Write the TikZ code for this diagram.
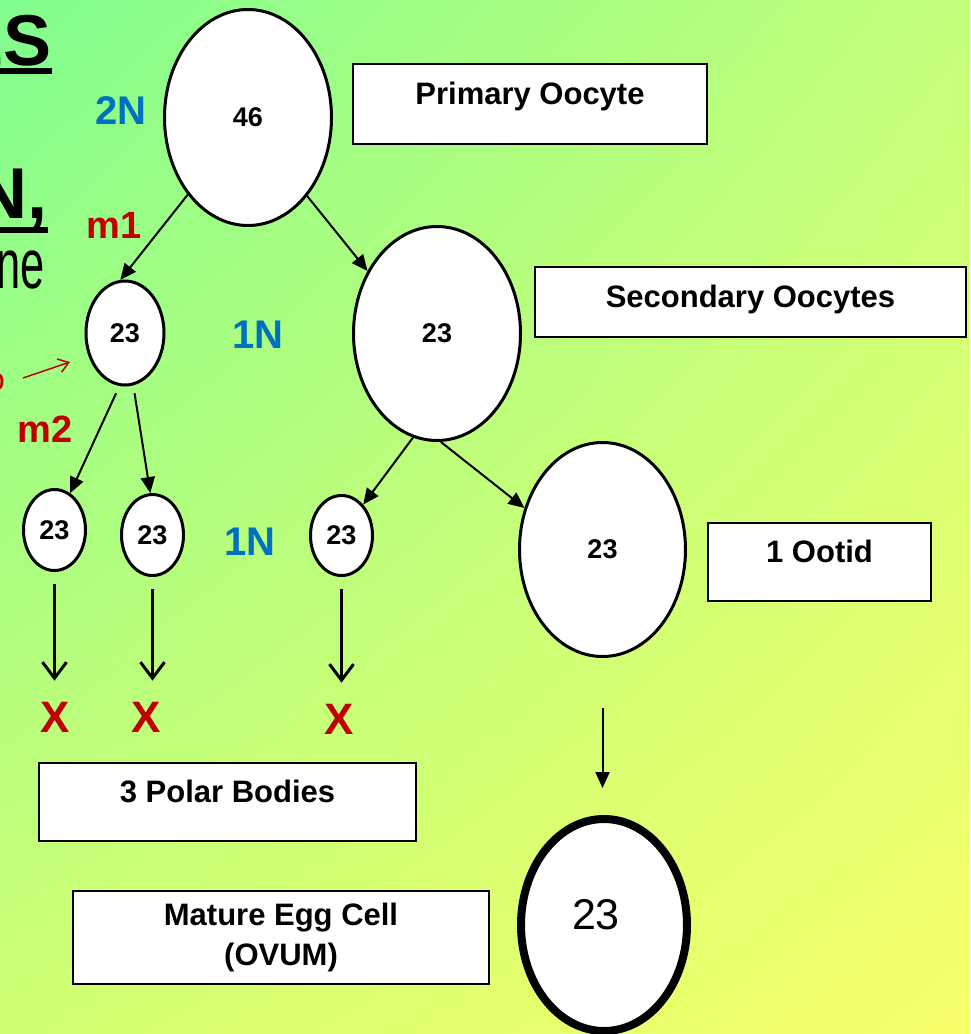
\documentclass[tikz,border=0pt]{standalone}
\usepackage{fontspec}
\setmainfont{Liberation Sans}
\usetikzlibrary{shapes.geometric,arrows.meta,shadings}

\definecolor{ploidblue}{RGB}{0,112,192}
\definecolor{mred}{RGB}{192,0,0}
\definecolor{bgA}{RGB}{128,253,142}
\definecolor{bgB}{RGB}{196,255,122}
\definecolor{bgC}{RGB}{208,255,116}
\definecolor{bgD}{RGB}{248,255,104}

% thick underline: text, gap below the baseline
\newcommand{\ulthick}[2]{\setbox0\hbox{#1}\rlap{\vrule height -#2 depth \dimexpr#2+6pt\relax width \wd0}\box0}

\begin{document}
\begin{tikzpicture}[x=1pt,y=-1pt,
    cell/.style={ellipse, draw, line width=3pt, fill=white, inner sep=0pt,
      font=\fontsize{27}{27}\selectfont\bfseries},
    tag/.style={rectangle, draw, line width=2pt, fill=white, inner sep=0pt,
      font=\fontsize{31}{40}\selectfont\bfseries},
    ploidy/.style={text=ploidblue, inner sep=0pt, font=\fontsize{40}{40}\selectfont\bfseries},
    phase/.style={text=mred, inner sep=0pt, font=\fontsize{38}{38}\selectfont\bfseries},
    gone/.style={text=mred, inner sep=0pt, font=\fontsize{44}{44}\selectfont\bfseries},
    arr/.style={line width=2pt, -{Triangle[length=16pt,width=14pt]}},
    dies/.style={line width=3pt, shorten <=12pt, shorten >=21pt,
      -{Straight Barb[length=16pt,width=24pt]}},
  ]
  \clip (0,0) rectangle (970,1034);
  \shade[upper left=bgA, upper right=bgB, lower left=bgC, lower right=bgD]
    (0,0) rectangle (970,1034);

  % left edge of the slide text
  \node[anchor=base east, inner sep=0pt, font=\fontsize{72}{72}\selectfont\bfseries] (es) at (52,65) {\ulthick{ES}{3pt}};
  \node[anchor=base east, inner sep=0pt, font=\fontsize{72}{72}\selectfont\bfseries] (nc) at (48,218) {\ulthick{N,}{9pt}};
  \node[anchor=base east, inner sep=0pt, font=\fontsize{70}{70}\selectfont] (ne) at (45,288) {\scalebox{0.62}[1]{ne}};
  \node[anchor=base east, inner sep=0pt, text=mred, font=\fontsize{32}{32}\selectfont] (ro) at (5,390) {o};
  \coordinate (ptail) at (23,378);
  \coordinate (ptip) at (70,362);
  \draw[mred, line width=1.5pt, -{Straight Barb[length=10pt,width=14pt]}] (ptail) -- (ptip);

  % cells
  \node[cell, minimum width=167pt, minimum height=216pt] (po) at (248,117.5) {46};
  \node[cell, minimum width=78pt, minimum height=104pt] (pb1) at (125,333) {23};
  \node[cell, minimum width=167pt, minimum height=214pt] (so) at (437,333.5) {23};
  \node[cell, minimum width=62pt, minimum height=81pt] (pb2a) at (54.5,530) {23};
  \node[cell, minimum width=62pt, minimum height=81pt] (pb2b) at (152.5,535) {23};
  \node[cell, minimum width=62pt, minimum height=80pt] (pb3) at (341.5,535.5) {23};
  \node[cell, minimum width=166pt, minimum height=214pt] (ot) at (602.5,549.5) {23};
  \node[cell, line width=8pt, minimum width=166pt, minimum height=212pt,
    font=\fontsize{43}{43}\selectfont, text height=31pt, text depth=22pt] (ovum) at (604,925) {23\kern16pt};

  % ploidy and division labels
  \node[ploidy] (n2) at (121,111) {2N};
  \node[ploidy] (n1a) at (258,335) {1N};
  \node[ploidy] (n1b) at (250,542) {1N};
  \node[phase] (m1) at (114,225) {m1};
  \node[phase] (m2) at (45,429) {m2};

  % name boxes
  \node[tag, minimum width=354pt, text height=40pt, text depth=40pt] (lpo) at (530,104) {Primary Oocyte};
  \node[tag, minimum width=431pt, text height=40pt, text depth=30pt] (lso) at (750.5,302) {Secondary Oocytes};
  \node[tag, minimum width=223pt, text height=39pt, text depth=39pt] (lot) at (819.5,562) {1 Ootid};
  \node[tag, minimum width=377pt, text height=39pt, text depth=39pt] (lpb) at (227.5,802) {3 Polar Bodies};
  \node[tag, align=center, minimum width=416pt, minimum height=93pt] (lov) at (281,937.5) {Mature Egg Cell\\(OVUM)};

  \node[gone] (x1) at (55.5,717) {X};
  \node[gone] (x2) at (146,717) {X};
  \node[gone] (x3) at (339,719) {X};

  \draw[arr] (po.232) -- (pb1.95);
  \draw[arr] (po.307) -- (so.138);
  \draw[arr, shorten <=8pt] (pb1.264) -- (pb2a.67);
  \draw[arr, shorten <=8pt] (pb1.279) -- (pb2b.93);
  \draw[arr] (so.257) -- (pb3.55);
  \draw[arr] (so.272) -- (ot.152);

  \draw[dies] (pb2a.south) -- (pb2a.south |- x1.north);
  \draw[dies] (pb2b.south) -- (pb2b.south |- x2.north);
  \draw[dies] (pb3.south) -- (pb3.south |- x3.north);
  \draw[arr, shorten <=50pt, shorten >=27pt] (ot.south) -- (ot.south |- ovum.north);
\end{tikzpicture}
\end{document}
